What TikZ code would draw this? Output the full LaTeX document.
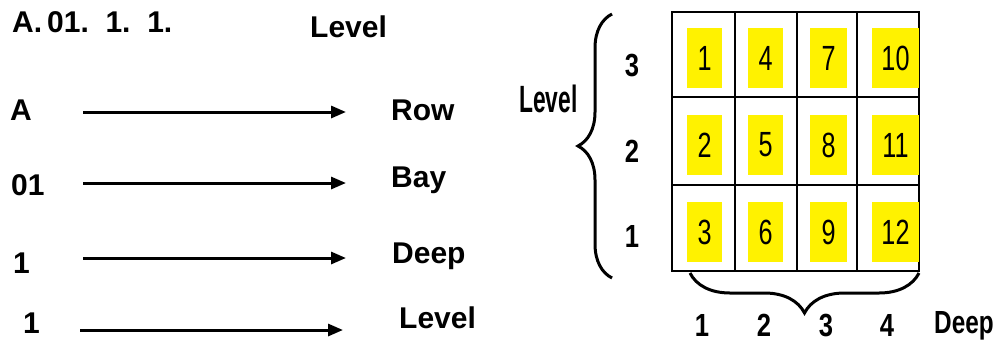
\documentclass[tikz,border=0pt]{standalone}
\usepackage{fontspec}
\usepackage{graphicx}
\setmainfont{Liberation Sans}
\usetikzlibrary{arrows.meta,decorations.pathreplacing}

\tikzset{
  lbl/.style={inner sep=0pt, anchor=base west, font=\fontsize{30}{30}\selectfont\bfseries},
  arr/.style={line width=3pt, -{Triangle[length=15pt,width=12pt]}},
  cell/.style={fill=yellow, inner sep=0pt, minimum height=60pt,
               font=\fontsize{35}{35}\selectfont},
  gridline/.style={line width=2.8pt},
  axisnum/.style={inner sep=0pt, font=\fontsize{32}{32}\selectfont\bfseries},
  bracel/.style={line width=3pt, decorate},
}
\newcommand{\nar}[2]{\scalebox{#1}[1]{#2}}

\begin{document}
\begin{tikzpicture}[x=1pt,y=-1pt]
\useasboundingbox (0,0) rectangle (995,341);

% ---- location code breakdown ----
\node[lbl] (code) at (12,32) {A.\,01.\ \ 1.\ \ 1.};
\node[lbl] (lvtop) at (310,37) {Level};

\node[lbl] (kA)  at (10,120) {A};
\node[lbl] (kB)  at (11,195) {01};
\node[lbl] (kC)  at (13,273) {1};
\node[lbl] (kD)  at (23,333) {1};

\node[lbl] (vA) at (391,120) {Row};
\node[lbl] (vB) at (391,187) {Bay};
\node[lbl] (vC) at (392,263) {Deep};
\node[lbl] (vD) at (399,328) {Level};

\coordinate (aS) at (83,112);  \coordinate (aE) at (346,112);
\coordinate (bS) at (83,183);  \coordinate (bE) at (346,183);
\coordinate (cS) at (83,258);  \coordinate (cE) at (346,258);
\coordinate (dS) at (80,330);  \coordinate (dE) at (343,330);
\draw[arr] (aS) -- (aE);
\draw[arr] (bS) -- (bE);
\draw[arr] (cS) -- (cE);
\draw[arr] (dS) -- (dE);

% ---- rack grid ----
\draw[gridline] (672,12) rectangle (919,271);
\draw[gridline] (735,12) -- (735,271);
\draw[gridline] (797,12) -- (797,271);
\draw[gridline] (857,12) -- (857,271);
\draw[gridline] (672,97) -- (919,97);
\draw[gridline] (672,185) -- (919,185);

% storage cells, numbered down each column
\foreach \n/\cx/\w/\cy in {
  1/704.5/35/58,   2/704.5/35/145,  3/704.5/35/232,
  4/765.5/35/58,   5/765.5/35/145,  6/765.5/35/232,
  7/828.5/37/58,   8/828.5/37/145,  9/828.5/37/232,
  10/895.5/47/58, 11/895.5/47/145, 12/895.5/47/232}
  \node[cell, minimum width=\w pt] (c\n) at (\cx,\cy) {\nar{0.72}{\n}};

% level axis
\node[axisnum] (l3) at (632,66) {\nar{0.8}{3}};
\node[axisnum] (l2) at (632,151) {\nar{0.8}{2}};
\node[axisnum] (l1) at (632,236) {\nar{0.8}{1}};
\draw[bracel, decoration={brace, amplitude=34pt}] (612,278) -- (612,14);
\node[inner sep=0pt, anchor=base west, font=\fontsize{38}{38}\selectfont\bfseries]
  (lvside) at (519,112) {\nar{0.6}{Level}};

% deep axis
\draw[bracel, decoration={brace, amplitude=40pt}] (919,273) -- (690,273);
\node[axisnum] (d1) at (702,325) {\nar{0.8}{1}};
\node[axisnum] (d2) at (764,325) {\nar{0.8}{2}};
\node[axisnum] (d3) at (826,325) {\nar{0.8}{3}};
\node[axisnum] (d4) at (887,325) {\nar{0.8}{4}};
\node[inner sep=0pt, anchor=base west, font=\fontsize{32}{32}\selectfont\bfseries]
  (deep) at (934,333) {\nar{0.76}{Deep}};
\end{tikzpicture}
\end{document}
